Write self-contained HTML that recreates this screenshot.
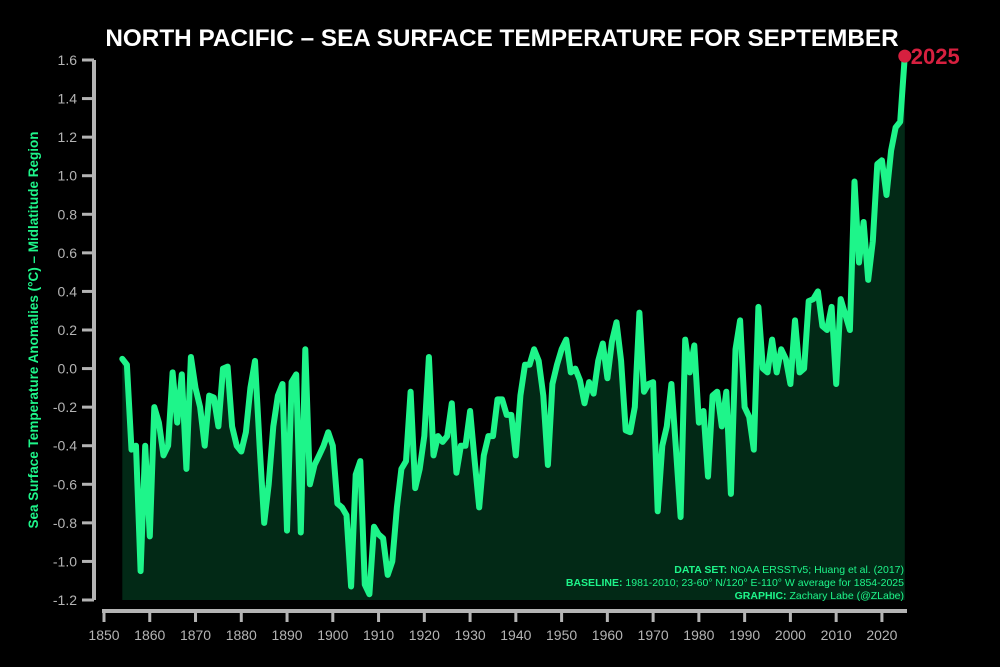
<!DOCTYPE html>
<html><head><meta charset="utf-8"><style>
body{margin:0;background:#000;width:1000px;height:667px;overflow:hidden}
svg{display:block}
text{font-family:"Liberation Sans",sans-serif}
</style></head><body>
<svg id="chart" width="1000" height="667" viewBox="0 0 1000 667">
<rect width="1000" height="667" fill="#000"/>
<text x="502" y="46" fill="#fff" font-size="24.3" font-weight="bold" text-anchor="middle">NORTH PACIFIC – SEA SURFACE TEMPERATURE FOR SEPTEMBER</text>
<text transform="translate(38,330) rotate(-90)" fill="#1ef58a" font-size="13.5" font-weight="bold" text-anchor="middle">Sea Surface Temperature Anomalies (°C) – Midlatitude Region</text>
<g id="axes"></g>
<path id="area" fill="#022916"/>
<g id="notes" font-size="10.5" text-anchor="end" fill="#1ef58a">
<text x="904" y="573"><tspan font-weight="bold">DATA SET:</tspan> NOAA ERSSTv5; Huang et al. (2017)</text>
<text x="904" y="586"><tspan font-weight="bold">BASELINE:</tspan> 1981-2010; 23-60° N/120° E-110° W average for 1854-2025</text>
<text x="904" y="599"><tspan font-weight="bold">GRAPHIC:</tspan> Zachary Labe (@ZLabe)</text>
</g>
<path id="line" fill="none" stroke="#1ef58a" stroke-width="6" stroke-linejoin="round" stroke-linecap="round"/>
<circle id="last" r="6.5" fill="#d6203f"/>
<text id="lastLabel" fill="#d6203f" font-size="22" font-weight="bold">2025</text>
</svg>
<script>
const startYear = 1854;
const anomalies = [0.05,0.02,-0.42,-0.40,-1.05,-0.40,-0.87,-0.20,-0.28,-0.45,-0.40,-0.02,-0.28,-0.03,-0.52,0.06,-0.10,-0.20,-0.40,-0.14,-0.15,-0.30,0.0,0.01,-0.30,-0.40,-0.43,-0.33,-0.10,0.04,-0.40,-0.80,-0.60,-0.30,-0.14,-0.08,-0.84,-0.07,-0.03,-0.85,0.10,-0.60,-0.50,-0.45,-0.40,-0.33,-0.40,-0.70,-0.72,-0.76,-1.13,-0.55,-0.48,-1.12,-1.17,-0.82,-0.86,-0.88,-1.07,-1.00,-0.72,-0.52,-0.48,-0.12,-0.62,-0.52,-0.35,0.06,-0.45,-0.35,-0.38,-0.35,-0.18,-0.54,-0.40,-0.40,-0.22,-0.48,-0.72,-0.45,-0.35,-0.35,-0.16,-0.16,-0.24,-0.24,-0.45,-0.14,0.02,0.02,0.10,0.04,-0.14,-0.50,-0.08,0.02,0.10,0.15,-0.02,0.0,-0.06,-0.18,-0.07,-0.13,0.04,0.13,-0.05,0.14,0.24,0.04,-0.32,-0.33,-0.20,0.29,-0.12,-0.08,-0.07,-0.74,-0.40,-0.30,-0.08,-0.42,-0.77,0.15,-0.02,0.12,-0.28,-0.22,-0.56,-0.14,-0.12,-0.30,-0.12,-0.65,0.10,0.25,-0.20,-0.25,-0.42,0.32,0.0,-0.02,0.15,-0.02,0.10,0.05,-0.08,0.25,-0.02,0.0,0.35,0.36,0.40,0.22,0.20,0.32,-0.08,0.36,0.28,0.20,0.97,0.55,0.76,0.46,0.66,1.06,1.08,0.90,1.13,1.25,1.28,1.62];
const xTicks = [1850,1860,1870,1880,1890,1900,1910,1920,1930,1940,1950,1960,1970,1980,1990,2000,2010,2020];
const yTicks = [-1.2,-1.0,-0.8,-0.6,-0.4,-0.2,0.0,0.2,0.4,0.6,0.8,1.0,1.2,1.4,1.6];

const X = yr => 104 + (yr - 1850) * 4.576;
const Y = v => 600 - (v + 1.2) * (540 / 2.8);
const NS = 'http://www.w3.org/2000/svg';
const axes = document.getElementById('axes');
function mk(tag, attrs, parent) {
  const e = document.createElementNS(NS, tag);
  for (const k in attrs) e.setAttribute(k, attrs[k]);
  parent.appendChild(e);
  return e;
}
const grey = '#b4b4b4';
let yl = mk('line', {x1: 94, x2: 94, y1: Y(1.6), y2: Y(-1.2), stroke: grey, 'stroke-width': 4}, axes);


let xl = mk('line', {x1: 102, x2: 907, y1: 611, y2: 611, stroke: grey, 'stroke-width': 4}, axes);


yTicks.forEach(v => {
  const t = mk('line', {x1: 82, x2: 94, y1: Y(v), y2: Y(v), stroke: grey, 'stroke-width': 3}, axes);
  
  
  const l = mk('text', {x: 77, y: Y(v) + 5, fill: grey, 'font-size': 14, 'text-anchor': 'end'}, axes);
  l.textContent = v.toFixed(1);
  
  
});
xTicks.forEach(yr => {
  const t = mk('line', {x1: X(yr), x2: X(yr), y1: 611, y2: 622, stroke: grey, 'stroke-width': 3}, axes);
  
  
  const l = mk('text', {x: X(yr), y: 640, fill: grey, 'font-size': 14, 'text-anchor': 'middle'}, axes);
  l.textContent = yr;
  
  
});
const pts = anomalies.map((v, i) => [X(startYear + i), Y(v)]);
const line = 'M' + pts.map(p => p[0].toFixed(1) + ',' + p[1].toFixed(1)).join('L');
document.getElementById('line').setAttribute('d', line);
const last = pts[pts.length - 1];
document.getElementById('area').setAttribute('d', line + 'L' + last[0].toFixed(1) + ',' + Y(-1.2) + 'L' + pts[0][0].toFixed(1) + ',' + Y(-1.2) + 'Z');
const c = document.getElementById('last');
c.setAttribute('cx', last[0]); c.setAttribute('cy', last[1]);
const ll = document.getElementById('lastLabel');
ll.setAttribute('x', last[0] + 6); ll.setAttribute('y', last[1] + 8);
</script>
</body></html>
